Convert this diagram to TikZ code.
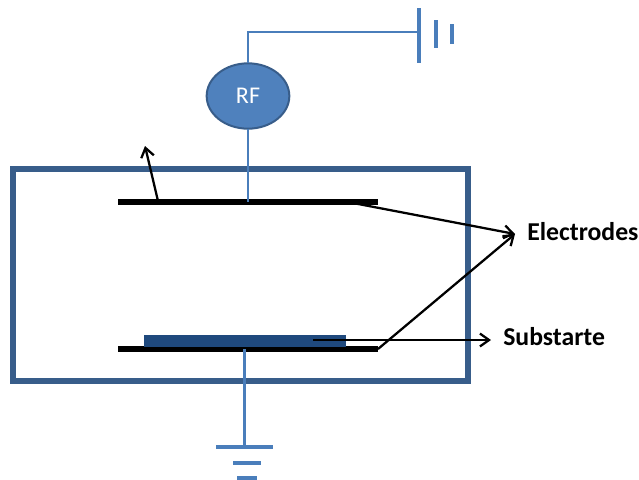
\documentclass[tikz,border=0pt]{standalone}
\usepackage{fontspec}
\setmainfont{Carlito}
\usetikzlibrary{arrows.meta,positioning,shapes.geometric}
\definecolor{wireblue}{RGB}{74,126,187}
\definecolor{chamberblue}{RGB}{56,93,138}
\definecolor{rffill}{RGB}{79,129,189}
\definecolor{subfill}{RGB}{31,73,125}
\tikzset{
  pointer/.style={-{Straight Barb[length=2.4mm,width=3.4mm,line width=1.7pt]},line width=1.7pt,draw=black},
  wire/.style={line width=1.9pt,draw=wireblue},
  chamber/.style={draw=chamberblue,line width=4.2pt,fill=none,minimum width=341.25pt,minimum height=159pt,inner sep=0pt,outer sep=0pt},
  plate/.style={fill=black,minimum width=195pt,minimum height=4.2pt,inner sep=0pt,outer sep=0pt},
  substrate/.style={fill=subfill,minimum width=151.5pt,minimum height=9.4pt,inner sep=0pt,outer sep=0pt},
  source/.style={ellipse,draw=chamberblue,line width=1.5pt,fill=rffill,minimum width=62pt,minimum height=49pt,inner sep=0pt,outer sep=0pt,text=white,font=\fontsize{18}{20}\selectfont},
  bar/.style={fill=wireblue,inner sep=0pt,outer sep=0pt},
  caption/.style={font=\fontsize{19.3}{22}\selectfont\bfseries,inner sep=0pt,anchor=west}
}
\begin{document}
\begin{tikzpicture}[x=0.75pt,y=-0.75pt]
  \useasboundingbox (0,0) rectangle (639,479);
  \node[source] (rf) at (248,96) {RF};
  \node[chamber] (box) at (240.5,275) {};
  \node[plate] (upper) at (248,202) {};
  \node[plate] (lower) at (248,349) {};
  \node[substrate] (sub) at (245,341) {};
  % battery at the top
  \node[bar,minimum width=2.4pt,minimum height=41pt] (batA) at (419,35.5) {};
  \node[bar,minimum width=2.8pt,minimum height=21pt] (batB) at (436,34) {};
  \node[bar,minimum width=2.8pt,minimum height=15pt] (batC) at (452,34) {};
  \coordinate (batin) at (419,32);
  \draw[wire] (rf.north) |- (batin);
  \draw[wire] (rf.south) -- (upper.center);
  % ground
  \node[bar,minimum width=43pt,minimum height=2.6pt] (gndA) at (244.5,447) {};
  \node[bar,minimum width=21pt,minimum height=2.6pt] (gndB) at (247,463) {};
  \node[bar,minimum width=15pt,minimum height=2.6pt] (gndC) at (246.5,478) {};
  \draw[wire] (lower.center -| gndA.center) -- (gndA.center);
  % labels
  \node[caption] (elec) at (527,232) {Electrodes};
  \node[caption] (subst) at (503,337) {Substarte};
  \coordinate (vent) at (145,146);
  \coordinate (ventfoot) at (158,201);
  \coordinate (upperfoot) at (353,203);
  \coordinate (subfoot) at (313,340);
  \coordinate (elecpt) at (515,234);
  \coordinate (subpt) at (491,340);
  \draw[pointer] (ventfoot) -- (vent);
  \draw[pointer] (upperfoot) -- (elecpt);
  \draw[pointer] (lower.east) -- (elecpt);
  \draw[pointer] (subfoot) -- (subpt);
\end{tikzpicture}
\end{document}
